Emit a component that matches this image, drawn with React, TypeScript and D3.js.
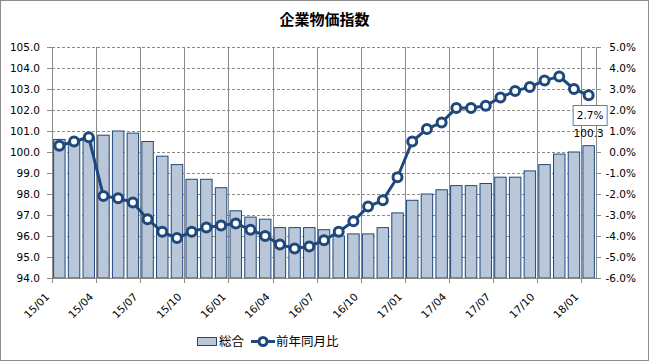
import React from "react";
import * as d3 from "d3";

const categories: string[] = [
  "15/01","15/02","15/03","15/04","15/05","15/06","15/07","15/08","15/09","15/10","15/11","15/12",
  "16/01","16/02","16/03","16/04","16/05","16/06","16/07","16/08","16/09","16/10","16/11","16/12",
  "17/01","17/02","17/03","17/04","17/05","17/06","17/07","17/08","17/09","17/10","17/11","17/12",
  "18/01",
];
const indexValues: number[] = [
  100.6,100.5,100.7,100.8,101.0,100.9,100.5,99.8,99.4,98.7,98.7,98.3,
  97.2,96.9,96.8,96.4,96.4,96.4,96.3,96.0,96.1,96.1,96.4,97.1,
  97.7,98.0,98.2,98.4,98.4,98.5,98.8,98.8,99.1,99.4,99.9,100.0,
  100.3,
];
const yoyValues: number[] = [
  0.3,0.5,0.7,-2.1,-2.2,-2.4,-3.2,-3.8,-4.1,-3.8,-3.6,-3.5,
  -3.4,-3.7,-4.0,-4.4,-4.6,-4.5,-4.2,-3.8,-3.3,-2.6,-2.3,-1.2,
  0.5,1.1,1.4,2.1,2.1,2.2,2.6,2.9,3.1,3.4,3.6,3.0,
  2.7,
];
const leftTicks: number[] = [94,95,96,97,98,99,100,101,102,103,104,105];
const rightTicks: number[] = [-6,-5,-4,-3,-2,-1,0,1,2,3,4,5];
const title = "企業物価指数";
const seriesNames = ["総合", "前年同月比"];

const W = 649, H = 361;
const m = { left: 52, right: 596, top: 47, bottom: 278 };
const FONT = "'Noto Sans CJK JP', 'DejaVu Sans', sans-serif";
const NUMFONT = "'DejaVu Sans', sans-serif";
const LINE = "#1f497d";
const BAR = "#b9c7d9";

export default function App() {
  const x = d3.scaleBand<string>().domain(categories).range([m.left, m.right]).paddingInner(0.22).paddingOuter(0.11);
  const yL = d3.scaleLinear().domain([94, 105]).range([m.bottom, m.top]);
  const yR = d3.scaleLinear().domain([-6, 5]).range([m.bottom, m.top]);
  const cx = (c: string) => (x(c) as number) + x.bandwidth() / 2;
  const line = d3.line<number>().x((_, i) => cx(categories[i])).y((d) => yR(d));
  const boundaries = d3.range(0, categories.length + 1, 3).map((i) => m.left + i * (m.right - m.left) / categories.length);
  const last = categories.length - 1;
  const lastX = cx(categories[last]);
  return (
    <div style={{ position: "absolute", left: 0, top: 0 }}>
      <svg width={W} height={H} style={{ display: "block", fontFamily: FONT }}>
        <rect x={0.5} y={0.5} width={W - 1} height={H - 1} fill="#fff" stroke="#8c8c8c" />
        <text x={W / 2} y={25} textAnchor="middle" fontSize={15} fontWeight="bold" fill="#000">{title}</text>
        {leftTicks.map((t) => (
          <line key={"h" + t} x1={m.left} x2={m.right} y1={Math.round(yL(t)) + 0.5} y2={Math.round(yL(t)) + 0.5}
            stroke="#8a8a8a" strokeDasharray="3,2" strokeWidth={1} />
        ))}
        {boundaries.map((b, i) => (
          <line key={"v" + i} x1={Math.round(b) + 0.5} x2={Math.round(b) + 0.5} y1={m.top} y2={m.bottom} stroke="#8a8a8a" strokeWidth={1} />
        ))}
        {indexValues.map((v, i) => (
          <rect key={"b" + i} x={x(categories[i])} y={yL(v)} width={x.bandwidth()} height={m.bottom - yL(v)}
            fill={BAR} stroke={LINE} strokeWidth={1} />
        ))}
        <line x1={m.left + 0.5} x2={m.left + 0.5} y1={m.top} y2={m.bottom} stroke="#8a8a8a" />
        <line x1={m.right + 0.5} x2={m.right + 0.5} y1={m.top} y2={m.bottom} stroke="#8a8a8a" />
        <line x1={m.left} x2={m.right} y1={m.bottom + 0.5} y2={m.bottom + 0.5} stroke="#8a8a8a" />
        {leftTicks.map((t) => (
          <g key={"lt" + t}>
            <line x1={m.left - 5} x2={m.left} y1={Math.round(yL(t)) + 0.5} y2={Math.round(yL(t)) + 0.5} stroke="#8a8a8a" />
            <text x={m.left - 12} y={yL(t)} dy="0.35em" textAnchor="end" fontSize={10.5} fontFamily={NUMFONT} fill="#000">{t.toFixed(1)}</text>
          </g>
        ))}
        {rightTicks.map((t) => (
          <g key={"rt" + t}>
            <line x1={m.right} x2={m.right + 5} y1={Math.round(yR(t)) + 0.5} y2={Math.round(yR(t)) + 0.5} stroke="#8a8a8a" />
            <text x={m.right + 40} y={yR(t)} dy="0.35em" textAnchor="end" fontSize={10.5} fontFamily={NUMFONT} fill="#000">{t.toFixed(1) + "%"}</text>
          </g>
        ))}
        {boundaries.map((b, i) => (
          <line key={"xt" + i} x1={Math.round(b) + 0.5} x2={Math.round(b) + 0.5} y1={m.bottom} y2={m.bottom + 5} stroke="#8a8a8a" />
        ))}
        {categories.map((c, i) => i % 3 === 0 ? (
          <text key={"xl" + i} transform={`translate(${cx(c) - 12},${m.bottom + 17}) rotate(-45)`} textAnchor="end" dy="0.35em"
            fontSize={10.5} fontFamily={NUMFONT} fill="#000">{c}</text>
        ) : null)}
        <path d={line(yoyValues) || ""} fill="none" stroke={LINE} strokeWidth={3} strokeLinejoin="round" />
        {yoyValues.map((v, i) => (
          <circle key={"c" + i} cx={cx(categories[i])} cy={yR(v)} r={4.5} fill="#fff" stroke={LINE} strokeWidth={3} />
        ))}
        <rect x={lastX - 15.5} y={105.5} width={34} height={20} fill="#fff" stroke="#4f81bd" strokeWidth={1} />
        <text x={lastX + 1.5} y={115.5} dy="0.35em" textAnchor="middle" fontSize={10.5} fontFamily={NUMFONT} fill="#000">{yoyValues[last].toFixed(1) + "%"}</text>
        <text x={lastX} y={133} dy="0.35em" textAnchor="middle" fontSize={10.5} fontFamily={NUMFONT} fill="#000">{indexValues[last].toFixed(1)}</text>
        <rect x={197.5} y={337.5} width={19} height={8} fill={BAR} stroke={LINE} strokeWidth={1} />
        <text x={219} y={341.5} dy="0.35em" fontSize={12.5} fill="#000">{seriesNames[0]}</text>
        <line x1={251} x2={275} y1={341.5} y2={341.5} stroke={LINE} strokeWidth={3} />
        <circle cx={263} cy={341.5} r={4} fill="#fff" stroke={LINE} strokeWidth={3} />
        <text x={276} y={341.5} dy="0.35em" fontSize={12.5} fill="#000">{seriesNames[1]}</text>
      </svg>
    </div>
  );
}
